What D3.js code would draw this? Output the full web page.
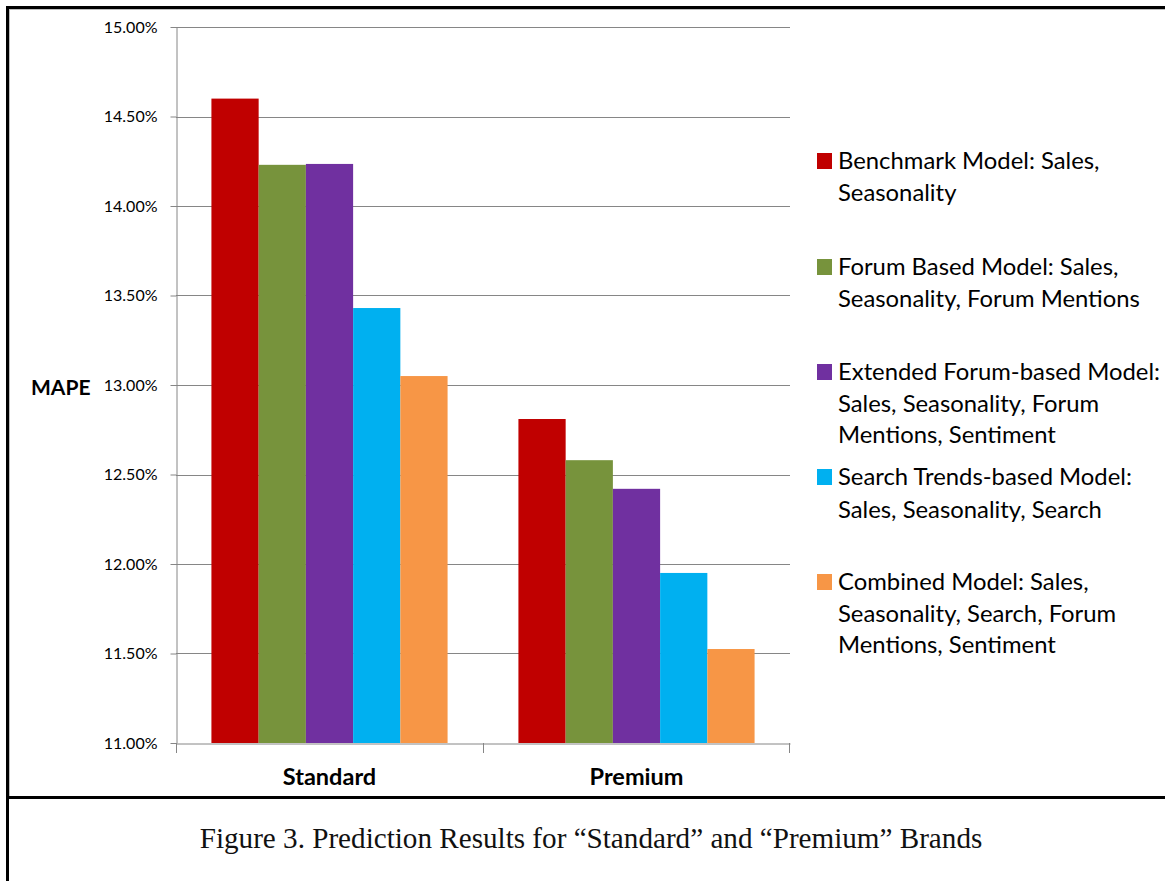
<!DOCTYPE html>
<html>
<head>
<meta charset="utf-8">
<script src="https://cdn.jsdelivr.net/npm/d3@7"></script>
<style>
  html, body { margin: 0; padding: 0; background: #fff; }
  svg { display: block; }
</style>
</head>
<body>
<svg id="chart" width="1165" height="881"></svg>
<script>
// Brands on the x axis
const brands = ["Standard", "Premium"];

// Model names (legend lines) and bar colours
const models = [
  ["Benchmark Model: Sales,", "Seasonality"],
  ["Forum Based Model: Sales,", "Seasonality, Forum Mentions"],
  ["Extended Forum-based Model:", "Sales, Seasonality, Forum", "Mentions, Sentiment"],
  ["Search Trends-based Model:", "Sales, Seasonality, Search"],
  ["Combined Model: Sales,", "Seasonality, Search, Forum", "Mentions, Sentiment"]
];
const modelColors = ["#c00000", "#77933c", "#7030a0", "#00b0f0", "#f79646"];

// MAPE per model (fraction), one array per brand
const standardMAPE = [0.1460, 0.1423, 0.14235, 0.1343, 0.1305];
const premiumMAPE  = [0.1281, 0.1258, 0.1242, 0.1195, 0.11525];

// y-axis ticks
const yTicks = [0.11, 0.115, 0.12, 0.125, 0.13, 0.135, 0.14, 0.145, 0.15];

const caption = "Figure 3. Prediction Results for \u201cStandard\u201d and \u201cPremium\u201d Brands";

const values = [standardMAPE, premiumMAPE];
const svg = d3.select("#chart");
const sans = "Lato, 'Open Sans', sans-serif";

// frame
svg.append("line").attr("x1", 7.5).attr("x2", 7.5).attr("y1", 6).attr("y2", 881)
  .attr("stroke", "#000").attr("stroke-width", 3);
svg.append("line").attr("x1", 6).attr("x2", 1165).attr("y1", 7.5).attr("y2", 7.5)
  .attr("stroke", "#000").attr("stroke-width", 3);
svg.append("line").attr("x1", 9.5).attr("x2", 9.5).attr("y1", 9).attr("y2", 796)
  .attr("stroke", "#bdbdbd").attr("stroke-width", 1);
svg.append("line").attr("x1", 9).attr("x2", 1165).attr("y1", 9.5).attr("y2", 9.5)
  .attr("stroke", "#bdbdbd").attr("stroke-width", 1);
svg.append("line").attr("x1", 6).attr("x2", 1165).attr("y1", 797.5).attr("y2", 797.5)
  .attr("stroke", "#000").attr("stroke-width", 3);

// scales
const plot = { left: 176, right: 790, top: 27, bottom: 743 };
const y = d3.scaleLinear().domain([0.11, 0.15]).range([plot.bottom, plot.top]);
const x0 = d3.scaleBand().domain(brands).range([plot.left, plot.right])
  .paddingInner(0).paddingOuter(0);
const barW = x0.bandwidth() / 6.5;
const x1 = d3.scaleBand().domain(d3.range(models.length))
  .range([0, barW * models.length]);
const groupOffset = (x0.bandwidth() - barW * models.length) / 2;

// gridlines
svg.append("g").selectAll("line").data(yTicks.slice(1)).join("line")
  .attr("x1", plot.left).attr("x2", plot.right)
  .attr("y1", d => Math.round(y(d)) + 0.5).attr("y2", d => Math.round(y(d)) + 0.5)
  .attr("stroke", "#868686").attr("stroke-width", 1);

// bars
const groups = svg.append("g").selectAll("g").data(brands).join("g")
  .attr("transform", b => `translate(${x0(b) + groupOffset},0)`);
groups.selectAll("rect")
  .data((b, i) => values[i].map((v, j) => ({ v, j })))
  .join("rect")
  .attr("x", d => x1(d.j))
  .attr("width", x1.bandwidth())
  .attr("y", d => y(d.v))
  .attr("height", d => y(0.11) - y(d.v))
  .attr("fill", d => modelColors[d.j]);

// y axis
const yAxis = svg.append("g").attr("transform", `translate(${plot.left + 0.5},0)`)
  .call(d3.axisLeft(y).tickValues(yTicks).tickSize(6).tickSizeOuter(0)
    .tickFormat(d3.format(".2%")));
yAxis.select(".domain").attr("stroke", "#868686");
yAxis.selectAll(".tick line").attr("stroke", "#868686");
yAxis.selectAll(".tick text").attr("x", -19).attr("font-family", sans)
  .attr("font-size", 16).attr("fill", "#000");

// x axis
const xAxis = svg.append("g").attr("transform", `translate(0,${plot.bottom + 0.5})`)
  .call(d3.axisBottom(x0).tickSize(0).tickSizeOuter(0));
xAxis.select(".domain").attr("stroke", "#868686");
xAxis.selectAll(".tick text").attr("y", 25).attr("dy", "0.71em")
  .attr("font-family", sans).attr("font-weight", "bold")
  .attr("font-size", 23.5).attr("fill", "#000");
// category separators
svg.append("g").selectAll("line").data(brands.slice(1)).join("line")
  .attr("x1", b => x0(b) + 0.5).attr("x2", b => x0(b) + 0.5)
  .attr("y1", plot.bottom).attr("y2", plot.bottom + 10)
  .attr("stroke", "#868686");
svg.append("line").attr("x1", plot.left + 0.5).attr("x2", plot.left + 0.5)
  .attr("y1", plot.bottom).attr("y2", plot.bottom + 10).attr("stroke", "#868686");
svg.append("line").attr("x1", plot.right - 0.5).attr("x2", plot.right - 0.5)
  .attr("y1", plot.bottom).attr("y2", plot.bottom + 10).attr("stroke", "#868686");

// y title
svg.append("text").attr("x", 31).attr("y", 395)
  .attr("font-family", sans).attr("font-weight", "bold").attr("font-size", 21)
  .text("MAPE");

// legend
const legendBaselines = [[169, 201], [275, 307], [380, 412, 443], [485, 518], [590, 622, 653]];
const legend = svg.append("g");
models.forEach((lines, i) => {
  legend.append("rect").attr("x", 817).attr("y", legendBaselines[i][0] - 16)
    .attr("width", 15).attr("height", 16).attr("fill", modelColors[i]);
  lines.forEach((t, k) => {
    legend.append("text").attr("class", "leg").attr("x", 838)
      .attr("y", legendBaselines[i][k])
      .attr("font-family", sans).attr("font-size", 21).attr("fill", "#000")
      .text(t);
  });
});
// size legend text so the widest line spans ~302px
const probe = legend.selectAll("text.leg").filter(function () {
  return this.textContent === "Seasonality, Forum Mentions";
}).node();
const fs = 21 * 302 / probe.getComputedTextLength();
legend.selectAll("text.leg").attr("font-size", fs);

// caption
const cap = svg.append("text").attr("x", 591).attr("y", 848)
  .attr("text-anchor", "middle")
  .attr("font-family", "'Liberation Serif', 'DejaVu Serif', serif")
  .attr("font-size", 24).attr("fill", "#111").text(caption);
const capFs = 24 * 783 / cap.node().getComputedTextLength();
cap.attr("font-size", capFs);
</script>
</body>
</html>
